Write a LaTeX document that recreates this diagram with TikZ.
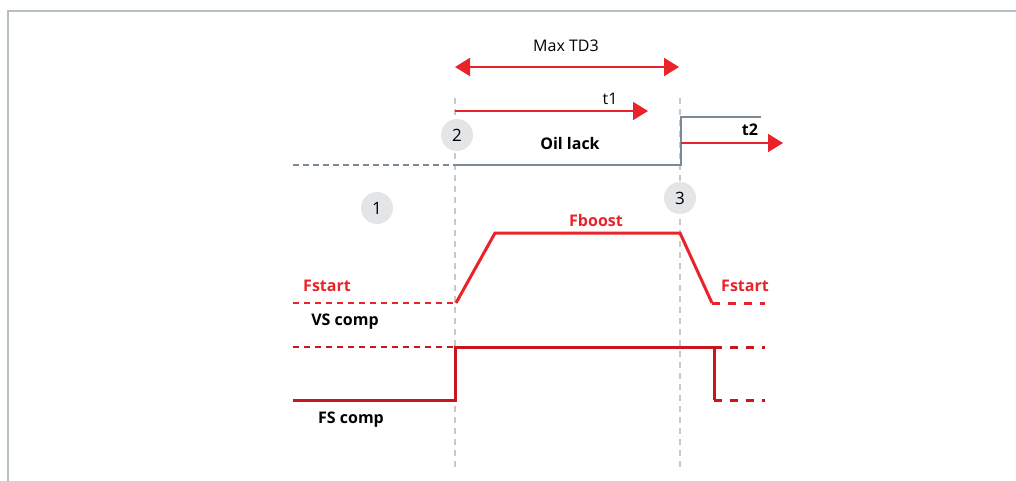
\documentclass[tikz,border=0pt]{standalone}
\usepackage{fontspec}
\setmainfont{Open Sans}
\usetikzlibrary{arrows.meta}
\definecolor{sigred}{HTML}{E8232A}
\definecolor{fsred}{HTML}{C8161E}
\definecolor{oilgray}{HTML}{7B8B95}
\definecolor{framegray}{HTML}{B4C0C6}
\definecolor{guidegray}{HTML}{C8C8C8}
\definecolor{badge}{HTML}{E4E5E6}
\begin{document}
\begin{tikzpicture}[
    x=0.5pt, y=-0.5pt,
    guide/.style={guidegray, line width=0.6pt, dash pattern=on 3pt off 2.5pt},
    timer/.style={sigred, line width=0.9pt, -{Triangle[length=7.5pt, width=9pt]}},
    oil/.style={oilgray, line width=0.8pt},
    vs/.style={sigred, line width=1.5pt, line join=miter},
    fs/.style={fsred, line width=1.5pt},
    thinvs/.style={sigred, line width=0.8pt, dash pattern=on 3pt off 2.5pt},
    thinfs/.style={fsred, line width=0.8pt, dash pattern=on 3pt off 2.5pt},
    tail/.style={line width=1.5pt, dash pattern=on 4pt off 4pt},
    num/.style={circle, fill=badge, minimum size=16pt, inner sep=0pt, font=\fontsize{8.5}{9}\selectfont},
    lbl/.style={font=\fontsize{8}{9}\selectfont\bfseries, inner sep=1pt},
    redlbl/.style={lbl, text=sigred}
]
\useasboundingbox (0,0) rectangle (1016,481);

% Frame
\draw[framegray, line width=0.8pt] (1016,11) -- (8,11) -- (8,481);

% Guides
\coordinate (g2top) at (455,98);
\coordinate (g2bot) at (455,472);
\coordinate (g3top) at (680,98);
\coordinate (g3bot) at (680,472);
\draw[guide] (g2top) -- (g2bot);
\draw[guide] (g3top) -- (g3bot);

% Max TD3
\coordinate (td3a) at (455,67);
\coordinate (td3b) at (679,67);
\draw[timer, {Triangle[length=7.5pt, width=9pt]}-{Triangle[length=7.5pt, width=9pt]}] (td3a) -- (td3b);
\node[font=\fontsize{8}{9}\selectfont] (td3) at (566,46) {Max TD3};

% Timer t1
\coordinate (t1a) at (455,111);
\coordinate (t1b) at (648,111);
\draw[timer] (t1a) -- (t1b);
\node[font=\fontsize{8}{9}\selectfont] (t1) at (610,99) {t1};

% Oil signal
\coordinate (oil0) at (293,165);
\coordinate (oil1) at (455,165);
\coordinate (oil2) at (681,165);
\coordinate (oil3) at (681,117);
\coordinate (oil4) at (761,117);
\draw[oil, dash pattern=on 3pt off 2pt] (oil0) -- (oil1);
\draw[oil] (oil1) -- (oil2) -- (oil3) -- (oil4);
\node[lbl] (oillack) at (570,143) {Oil lack};

% Timer t2
\coordinate (t2a) at (681,143);
\coordinate (t2b) at (783,143);
\draw[timer] (t2a) -- (t2b);
\node[lbl] (t2) at (750,130) {t2};

% Steps
\node[num] (s1) at (377,208) {1};
\node[num] (s2) at (457,135) {2};
\node[num] (s3) at (680,198) {3};

% VS comp
\coordinate (vs0) at (293,303);
\coordinate (vs1) at (456,303);
\coordinate (vs2) at (495,233);
\coordinate (vs3) at (680,233);
\coordinate (vs4) at (712,303);
\coordinate (vs5) at (765,303);
\draw[thinvs] (vs0) -- (vs1);
\draw[vs] (vs1) -- (vs2) -- (vs3) -- (vs4);
\draw[vs, tail] (vs4) -- (vs5);
\node[redlbl] (fboost) at (596,220) {Fboost};
\node[redlbl] (fstart1) at (327,286) {Fstart};
\node[redlbl] (fstart2) at (745,286) {Fstart};
\node[lbl] (vscomp) at (345,322) {VS comp};

% FS comp
\coordinate (fs0) at (293,400);
\coordinate (fs1) at (455,400);
\coordinate (fs2) at (455,347);
\coordinate (fs3) at (714,347);
\coordinate (fs4) at (714,400);
\coordinate (fs5) at (765,347);
\coordinate (fs6) at (765,400);
\coordinate (fsd) at (293,347);
\draw[thinfs] (fsd) -- (fs2);
\draw[fs] (fs0) -- (fs1) -- (fs2) -- (fs3) -- (fs4);
\draw[fs, tail] (fs3) -- (fs5);
\draw[fs, tail] (fs4) -- (fs6);
\node[lbl] (fscomp) at (351,420) {FS comp};

\end{tikzpicture}
\end{document}
